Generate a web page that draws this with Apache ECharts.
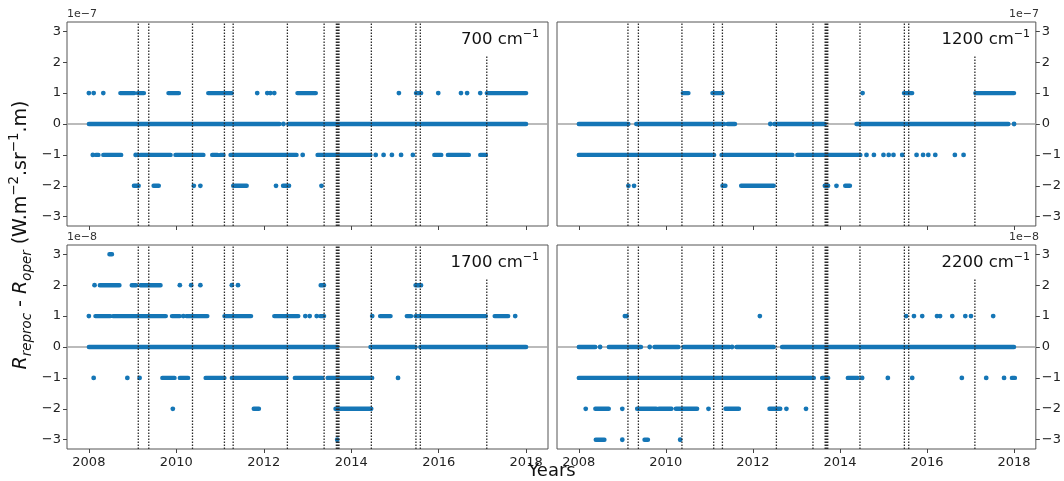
<!DOCTYPE html>
<html><head><meta charset="utf-8">
<script src="https://cdn.jsdelivr.net/npm/echarts@6/dist/echarts.min.js"></script>
<style>html,body{margin:0;padding:0;background:#fff}#c{width:1064px;height:481px}</style>
</head><body><div id="c"></div>
<script>
// ---- data ----
const yearTicks = [2008, 2010, 2012, 2014, 2016, 2018];
const levelTicks = [-3, -2, -1, 0, 1, 2, 3];
const eventDates = [2009.13, 2009.37, 2010.37, 2011.10, 2011.30, 2012.54, 2013.38, 2013.66, 2013.69, 2013.72, 2014.46, 2015.48, 2015.58, 2017.10];
const eventTops  = [3.3, 3.3, 3.3, 3.3, 3.3, 3.3, 3.3, 3.3, 3.3, 3.3, 3.3, 3.3, 3.3, 2.2];
const panelWavenumbers = ['700', '1200', '1700', '2200'];
const scaleLabels = ['1e\u22127', '1e\u22127', '1e\u22128', '1e\u22128'];

// runs: [level, start, end]  (dense daily points), dots: [date, level]
const runs700 = [
  [1, 2008.72, 2009.04], [1, 2009.12, 2009.26], [1, 2009.82, 2010.06], [1, 2010.73, 2011.27], [1, 2012.77, 2013.19], [1, 2015.48, 2015.60], [1, 2017.10, 2018.00],
  [0, 2008.00, 2012.36], [0, 2012.56, 2018.00],
  [-1, 2008.16, 2008.22], [-1, 2008.33, 2008.74], [-1, 2009.18, 2009.87], [-1, 2009.98, 2010.62], [-1, 2010.82, 2010.94], [-1, 2011.01, 2011.08], [-1, 2011.24, 2012.75], [-1, 2013.23, 2014.44], [-1, 2015.90, 2016.06], [-1, 2016.21, 2016.69], [-1, 2016.95, 2017.08],
  [-2, 2009.03, 2009.14], [-2, 2009.48, 2009.60], [-2, 2011.30, 2011.61], [-2, 2012.44, 2012.58]
];
const dots700 = [
  [2008.00, 1], [2008.11, 1], [2008.33, 1], [2011.85, 1], [2012.08, 1], [2012.15, 1], [2012.24, 1], [2015.09, 1], [2015.99, 1], [2016.51, 1], [2016.65, 1], [2016.95, 1],
  [2012.45, 0],
  [2008.09, -1], [2009.07, -1], [2009.12, -1], [2012.89, -1], [2014.56, -1], [2014.74, -1], [2014.93, -1], [2015.14, -1], [2015.41, -1],
  [2010.40, -2], [2010.55, -2], [2012.28, -2], [2013.32, -2]
];
const runs1200 = [
  [1, 2010.39, 2010.52], [1, 2011.07, 2011.30], [1, 2015.47, 2015.66], [1, 2017.11, 2018.00],
  [0, 2008.00, 2009.14], [0, 2009.32, 2011.34], [0, 2011.42, 2011.59], [0, 2012.49, 2013.65], [0, 2014.38, 2017.87],
  [-1, 2008.00, 2011.11], [-1, 2011.28, 2012.91], [-1, 2013.02, 2014.47],
  [-2, 2011.30, 2011.37], [-2, 2011.73, 2012.48], [-2, 2013.65, 2013.73], [-2, 2014.12, 2014.23]
];
const dots1200 = [
  [2014.52, 1],
  [2012.40, 0], [2018.00, 0],
  [2014.61, -1], [2014.78, -1], [2015.00, -1], [2015.12, -1], [2015.23, -1], [2015.43, -1], [2015.76, -1], [2015.91, -1], [2016.03, -1], [2016.19, -1], [2016.64, -1], [2016.84, -1],
  [2009.14, -2], [2009.27, -2], [2013.92, -2]
];
const runs1700 = [
  [3, 2008.47, 2008.53],
  [2, 2008.25, 2008.70], [2, 2008.98, 2009.08], [2, 2009.18, 2009.64], [2, 2013.30, 2013.38], [2, 2015.47, 2015.60],
  [1, 2008.15, 2008.49], [1, 2008.55, 2009.76], [1, 2009.90, 2010.08], [1, 2010.23, 2010.71], [1, 2011.10, 2011.71], [1, 2012.24, 2012.79], [1, 2013.29, 2013.38], [1, 2014.66, 2014.90], [1, 2015.27, 2015.37], [1, 2015.47, 2017.08], [1, 2017.28, 2017.59],
  [0, 2008.00, 2013.68], [0, 2014.44, 2015.47], [0, 2015.58, 2018.00],
  [-1, 2009.68, 2009.96], [-1, 2010.08, 2010.27], [-1, 2010.67, 2011.10], [-1, 2011.27, 2012.52], [-1, 2012.71, 2013.34], [-1, 2013.46, 2014.48],
  [-2, 2011.77, 2011.89], [-2, 2013.64, 2014.46]
];
const dots1700 = [
  [2008.13, 2], [2010.08, 2], [2010.34, 2], [2010.55, 2], [2011.27, 2], [2011.41, 2],
  [2008.00, 1], [2010.16, 1], [2012.95, 1], [2013.05, 1], [2013.21, 1], [2014.48, 1], [2017.75, 1],
  [2008.11, -1], [2008.88, -1], [2009.16, -1], [2015.07, -1],
  [2009.92, -2],
  [2013.68, -3]
];
const runs2200 = [
  [0, 2008.00, 2008.38], [0, 2008.69, 2009.43], [0, 2009.74, 2010.29], [0, 2010.41, 2011.46], [0, 2011.62, 2012.48], [0, 2012.67, 2018.00],
  [-1, 2008.00, 2013.40], [-1, 2013.59, 2013.73], [-1, 2014.18, 2014.41], [-1, 2017.95, 2018.02],
  [-2, 2008.38, 2008.69], [-2, 2009.34, 2009.78], [-2, 2009.84, 2010.13], [-2, 2010.23, 2010.72], [-2, 2011.37, 2011.68], [-2, 2012.38, 2012.63],
  [-3, 2008.39, 2008.59], [-3, 2009.51, 2009.59]
];
const dots2200 = [
  [2009.06, 1], [2009.10, 1], [2012.16, 1], [2015.52, 1], [2015.70, 1], [2015.89, 1], [2016.23, 1], [2016.30, 1], [2016.58, 1], [2016.88, 1], [2017.01, 1], [2017.52, 1],
  [2008.49, 0], [2009.63, 0], [2011.52, 0],
  [2014.51, -1], [2015.10, -1], [2015.66, -1], [2016.80, -1], [2017.36, -1], [2017.77, -1],
  [2008.16, -2], [2009.00, -2], [2010.98, -2], [2012.77, -2], [2013.22, -2],
  [2009.00, -3], [2010.33, -3]
];

// ---- chart ----
const X_MIN = 2007.5, X_MAX = 2018.5, Y_MIN = -3.3, Y_MAX = 3.3;
const BLUE = '#1576b6';
const FONT = 'DejaVu Sans';
const allRuns = [runs700, runs1200, runs1700, runs2200];
const allDots = [dots700, dots1200, dots1700, dots2200];

const grids = [
  { left: 67, top: 22, width: 481, height: 204 },
  { left: 557, top: 22, width: 482, height: 204 },
  { left: 67, top: 245, width: 481, height: 204 },
  { left: 557, top: 245, width: 482, height: 204 }
].map(g => Object.assign(g, { show: true, borderColor: '#555', borderWidth: 1, backgroundColor: 'transparent', containLabel: false }));

const fmtMinus = v => (v < 0 ? '\u2212' + Math.abs(v) : String(v));

const xAxes = grids.map((g, i) => ({
  type: 'value', gridIndex: i, min: X_MIN, max: X_MAX,
  axisLine: { show: false, onZero: false },
  splitLine: { show: false },
  axisTick: { show: true, length: 4, customValues: yearTicks, lineStyle: { color: '#444', width: 1 } },
  axisLabel: { show: i >= 2, customValues: yearTicks, fontSize: 13, fontFamily: FONT, color: '#222', margin: 7, formatter: v => String(v) }
}));
const yAxes = grids.map((g, i) => ({
  type: 'value', gridIndex: i, min: Y_MIN, max: Y_MAX, position: (i % 2 === 0) ? 'left' : 'right',
  axisLine: { show: false, onZero: false },
  splitLine: { show: false },
  axisTick: { show: true, length: 4, customValues: levelTicks, lineStyle: { color: '#444', width: 1 } },
  axisLabel: { show: true, customValues: levelTicks, fontSize: 13, fontFamily: FONT, color: '#222', margin: 6, formatter: fmtMinus }
}));

const series = [];
for (let i = 0; i < 4; i++) {
  series.push({
    type: 'line', xAxisIndex: i, yAxisIndex: i, data: [[X_MIN, 0], [X_MAX, 0]],
    symbol: 'none', lineStyle: { color: '#a5a5a5', width: 1.3 }, z: 1, silent: true
  });
  const runData = [];
  allRuns[i].forEach(r => { runData.push([r[1], r[0]], [r[2], r[0]], ['-', '-']); });
  series.push({
    type: 'line', xAxisIndex: i, yAxisIndex: i, data: runData, connectNulls: false,
    symbol: 'none', showSymbol: false, lineStyle: { color: BLUE, width: 4.4, cap: 'round' }, z: 3, silent: true
  });
  series.push({
    type: 'scatter', xAxisIndex: i, yAxisIndex: i, data: allDots[i],
    symbolSize: 4.8, itemStyle: { color: BLUE, opacity: 1 }, z: 3, silent: true
  });
  const evData = [];
  eventDates.forEach((d, k) => { evData.push([d, Y_MIN], [d, eventTops[k]], ['-', '-']); });
  series.push({
    type: 'line', xAxisIndex: i, yAxisIndex: i, data: evData, connectNulls: false,
    symbol: 'none', showSymbol: false, lineStyle: { color: '#2a2a2a', width: 1.3, type: [1.6, 1.4] }, z: 4, silent: true
  });
}

const graphic = [];
grids.forEach((g, i) => {
  const right = g.left + g.width;
  graphic.push({
    type: 'text', x: right - 9, y: g.top + 18, z: 10,
    style: {
      text: '{a|' + panelWavenumbers[i] + ' cm}{s|\u22121}', align: 'right', verticalAlign: 'middle',
      rich: {
        a: { fontSize: 16.5, fontFamily: FONT, fill: '#111', lineHeight: 22 },
        s: { fontSize: 11, fontFamily: FONT, fill: '#111', lineHeight: 12, verticalAlign: 'top' }
      }
    }
  });
  graphic.push({
    type: 'text', x: (i % 2 === 0) ? g.left : right, y: g.top - 2, z: 10,
    style: { text: scaleLabels[i], fontSize: 11, fontFamily: FONT, fill: '#333', align: (i % 2 === 0) ? 'left' : 'right', verticalAlign: 'bottom' }
  });
});
graphic.push({
  type: 'text', x: 21, y: 235, rotation: Math.PI / 2, z: 10,
  style: {
    text: '{i|R}{isub|reproc}{n| - }{i|R}{isub|oper}{n| (W.m}{sup|\u22122}{n|.sr}{sup|\u22121}{n|.m)}',
    align: 'center', verticalAlign: 'middle',
    rich: {
      i: { fontSize: 19, fontStyle: 'italic', fontFamily: FONT, fill: '#111', lineHeight: 26 },
      isub: { fontSize: 13.4, fontStyle: 'italic', fontFamily: FONT, fill: '#111', lineHeight: 13, verticalAlign: 'bottom' },
      n: { fontSize: 19, fontFamily: FONT, fill: '#111', lineHeight: 26 },
      sup: { fontSize: 13.4, fontFamily: FONT, fill: '#111', lineHeight: 13, verticalAlign: 'top' }
    }
  }
});
graphic.push({
  type: 'text', x: 552, y: 471, z: 10,
  style: { text: 'Years', fontSize: 18, fontFamily: FONT, fill: '#111', align: 'center', verticalAlign: 'middle' }
});

const chart = echarts.init(document.getElementById('c'), null, { renderer: 'canvas' });
chart.setOption({
  animation: false,
  backgroundColor: '#fff',
  grid: grids,
  xAxis: xAxes,
  yAxis: yAxes,
  series: series,
  graphic: graphic
});
</script>
</body></html>
